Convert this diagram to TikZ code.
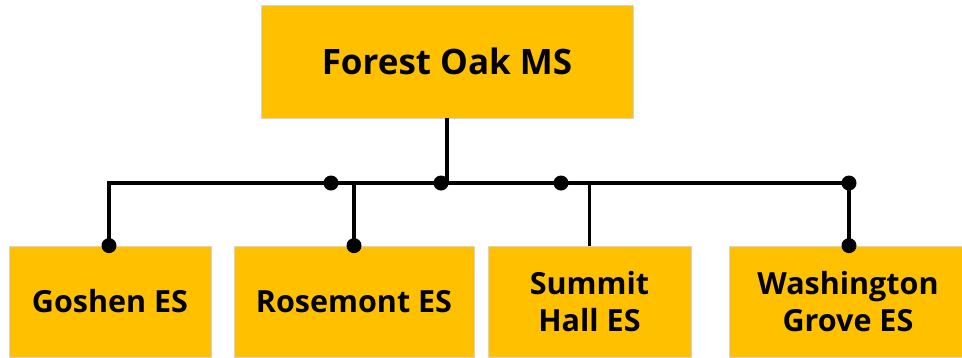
\documentclass[tikz,border=0pt]{standalone}
\usepackage{fontspec}
\setmainfont{Open Sans}
\definecolor{boxfill}{HTML}{FFC000}
\definecolor{boxline}{HTML}{D4D4D4}
\begin{document}
\begin{tikzpicture}[x=1pt,y=-1pt,
  orgbox/.style={draw=boxline,line width=0.8pt,fill=boxfill,inner sep=0pt,
    font=\bfseries\fontsize{30.5}{37}\selectfont,align=center,text=black},
  conn/.style={line width=3.2pt,black},
  dotc/.style={fill=black}]
\useasboundingbox (0,0) rectangle (962,357);
\clip (0,0) rectangle (962,357);
\node[orgbox,minimum width=372pt,minimum height=113pt,font=\bfseries\fontsize{35}{42}\selectfont] (top) at (447,61.5) {Forest Oak MS};
\node[orgbox,minimum width=202pt,minimum height=111pt] (goshen) at (110,301.5) {Goshen ES};
\node[orgbox,minimum width=240pt,minimum height=111pt] (rose) at (354,301.5) {Rosemont ES};
\node[orgbox,minimum width=203pt,minimum height=111pt] (summit) at (589.5,301.5) {Summit\\Hall ES};
\node[orgbox,minimum width=238pt,minimum height=111pt] (wash) at (848,301.5) {Washington\\Grove ES};
\coordinate (jt) at (447,183);
\coordinate (jw) at (849,183);
\coordinate (d1) at (331,183);
\coordinate (d2) at (441,183);
\coordinate (d3) at (561,183);
\draw[conn] (top.south) -- (jt);
\draw[conn] (goshen.north -| 109,0) |- (jw) -- (wash.north -| jw);
\draw[conn] (rose.north) -- (rose.north |- jw);
\draw[conn] (summit.north) -- (summit.north |- jw);
\foreach \p in {d1,d2,d3,jw}{\fill[dotc] (\p) circle (7.5pt);}
\fill[dotc] (goshen.north -| 109,0) circle (7.5pt);
\fill[dotc] (rose.north) circle (7.5pt);
\fill[dotc] (wash.north -| jw) circle (7.5pt);
\end{tikzpicture}
\end{document}
